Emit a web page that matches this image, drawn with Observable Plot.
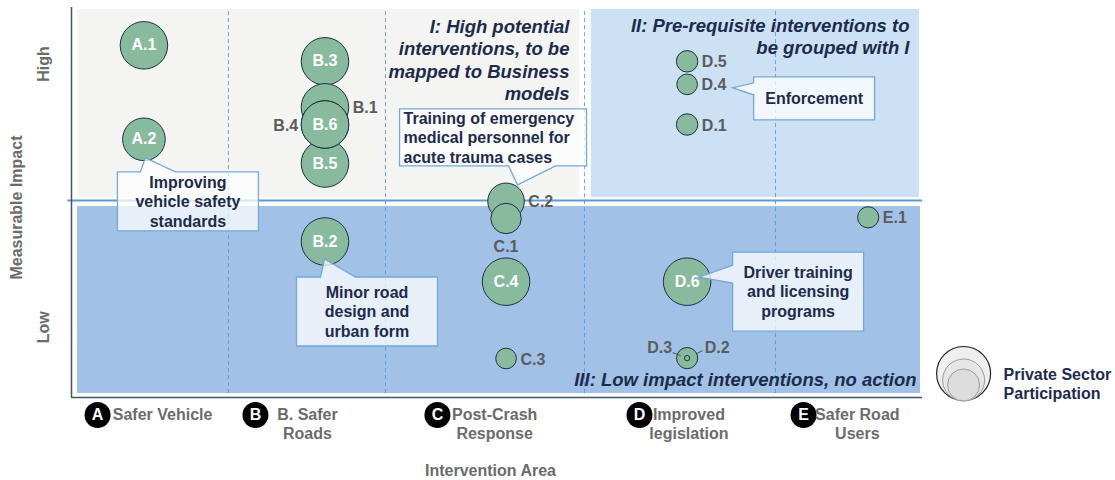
<!DOCTYPE html>
<html>
<head>
<meta charset="utf-8">
<script src="https://cdn.jsdelivr.net/npm/d3@7"></script>
<script src="https://cdn.jsdelivr.net/npm/@observablehq/plot@0.6"></script>
<style>
  html, body { margin: 0; padding: 0; background: #ffffff; }
  #chart svg { display: block; }
</style>
</head>
<body>
<div id="chart"></div>
<script>
// ------------------------- DATA -------------------------
const categories = ["A", "B", "C", "D", "E"];
const categoryNames = ["Safer Vehicle", "B. Safer\nRoads", "Post-Crash\nResponse", "Improved\nlegislation", "Safer Road\nUsers"];

// interventions (drawing order: later ones on top)
const ids           = ["A.1", "A.2", "B.3", "B.1", "B.5", "B.4", "B.6", "B.2", "C.2", "C.1", "C.4", "C.3", "D.5", "D.4", "D.1", "D.6", "D.2", "D.3", "E.1"];
const area          = ["A",   "A",   "B",   "B",   "B",   "B",   "B",   "B",   "C",   "C",   "C",   "C",   "D",   "D",   "D",   "D",   "D",   "D",   "E"];
const impact        = [9.03,  6.62,  8.62,  7.44,  6.0,   7.0,   7.0,   4.0,   5.03,  4.59,  2.97,  1.0,   8.62,  8.03,  7.0,   2.97,  1.01,  1.01,  4.62];
const participation = [9.8,   7.9,   9.8,   9.8,   9.8,   9.8,   9.8,   9.8,   5.8,   4.0,   9.8,   1.85,  2.0,   1.85,  2.0,   9.8,   1.95,  0.12,  1.95];
const labelSide     = ["in",  "in",  "in",  "right","in", "left","in",  "in",  "right","below","in", "right","right","right","right","in", "leadR","leadL","right"];

const yTickLabels = ["Low", "High"];
const yTickValues = [1.8, 8.55];
const xTitle = "Intervention Area";
const yTitle = "Measurable Impact";
const legendTitle = "Private Sector\nParticipation";

const quadrantTitles = [
  "I: High potential\ninterventions, to be\nmapped to Business\nmodels",
  "II: Pre-requisite interventions to\nbe grouped with I",
  "III: Low impact interventions, no action"
];
const calloutTargets = ["A.2", "C.2", "D.4", "B.2", "D.6"];
const calloutTexts = [
  "Improving\nvehicle safety\nstandards",
  "Training of emergency\nmedical personnel for\nacute trauma cases",
  "Enforcement",
  "Minor road\ndesign and\nurban form",
  "Driver training\nand licensing\nprograms"
];

// --------------------- LAYOUT / STYLE ---------------------
const W = 1115, H = 480;
const mL = 71, mR = 193, mT = 7, mB = 83;
const xDomain = [-0.4, 4.3];
const yDomain = [0, 10];
const threshold = 5.05;                       // High / Low split
const dividers = [0.467, 1.334, 2.433, 3.488]; // area boundaries
const rOptions = {type: "sqrt", domain: [0, 10], range: [0, 24]};

const catIconX = [-0.256, 0.616, 1.621, 2.737, 3.643];
const catLabelX = [0.103, 0.903, 1.937, 3.01, 3.94];
const catRowY = -0.45;
const legendX = 4.527, legendY = 0.615;

const C = {
  greyPanel: "#f4f4f2", lightBlue: "#cde1f4", blue: "#a2c1e6",
  line: "#5b9bd5", axis: "#44546a",
  bubble: "#88ba9d", bubbleStroke: "#1e3142",
  navy: "#1c2b4b", grey: "#6b6b6b", darkGrey: "#5c5c5c",
  boxStroke: "#72a9dc"
};

// callout geometry, offsets in px from the target bubble centre
const calloutLayout = [
  {box: [-26, 33, 115, 92],  side: "top",    base: [-3, 32],  tip: [2, 19],   align: "middle"},
  {box: [-106, -92, 81, -35], side: "bottom", base: [3, 50],   tip: [12, -16], align: "start"},
  {box: [67, -7, 188, 36],   side: "left",   base: [-1, 11],  tip: [46, 4],   align: "middle"},
  {box: [-28, 36, 113, 105], side: "top",    base: [-4, 31],  tip: [0, 18],   align: "middle"},
  {box: [46, -29, 177, 50],  side: "left",   base: [-16, 2],  tip: [12, -4],  align: "middle"}
];

// ------------------------- BUILD -------------------------
const bubbles = ids.map((id, i) => ({
  id, area: area[i], impact: impact[i], participation: participation[i], side: labelSide[i]
}));
const byId = Object.fromEntries(bubbles.map(d => [d.id, d]));
const xOf = d => categories.indexOf(d.area);

let rScale;
try { rScale = Plot.scale({r: rOptions}); } catch (e) { rScale = null; }
const rPx = v => rScale ? rScale.apply(v) : Math.sqrt(v / 10) * 24;

const fallbackX = d3.scaleLinear(xDomain, [mL, W - mR]);
const fallbackY = d3.scaleLinear(yDomain, [H - mB, mT]);

function annotations(index, scales) {
  const sx = (scales && scales.x) || fallbackX;
  const sy = (scales && scales.y) || fallbackY;
  const g = d3.create("svg:g");
  calloutTargets.forEach((t, i) => {
    const b = byId[t], L = calloutLayout[i];
    const cx = sx(categories.indexOf(b.area)), cy = sy(b.impact);
    const x1 = cx + L.box[0], y1 = cy + L.box[1], x2 = cx + L.box[2], y2 = cy + L.box[3];
    const tx = cx + L.tip[0], ty = cy + L.tip[1];
    let p;
    if (L.side === "top") {
      p = [[x1, y1], [cx + L.base[0], y1], [tx, ty], [cx + L.base[1], y1], [x2, y1], [x2, y2], [x1, y2]];
    } else if (L.side === "bottom") {
      p = [[x1, y1], [x2, y1], [x2, y2], [cx + L.base[1], y2], [tx, ty], [cx + L.base[0], y2], [x1, y2]];
    } else {
      p = [[x1, y1], [x2, y1], [x2, y2], [x1, y2], [x1, cy + L.base[1]], [tx, ty], [x1, cy + L.base[0]]];
    }
    g.append("path")
      .attr("d", "M" + p.map(q => q.join(",")).join("L") + "Z")
      .attr("fill", "#ffffff").attr("fill-opacity", 0.74)
      .attr("stroke", C.boxStroke).attr("stroke-width", 1.3);
    const lines = calloutTexts[i].split("\n");
    const lh = 19.5, mid = (y1 + y2) / 2;
    const text = g.append("text")
      .attr("font-size", 16).attr("font-weight", "bold").attr("fill", C.navy)
      .attr("text-anchor", L.align === "start" ? "start" : "middle");
    lines.forEach((s, k) => {
      text.append("tspan")
        .attr("x", L.align === "start" ? x1 + 4 : (x1 + x2) / 2)
        .attr("y", mid + (k - (lines.length - 1) / 2) * lh + 5.7)
        .text(s);
    });
  });
  // leader lines for D.3 / D.2
  const lead = [["D.3", [-14, -5], [-6, -2]], ["D.2", [10, -4], [16, -7]]];
  lead.forEach(([id, a, c]) => {
    const b = byId[id];
    const cx = sx(categories.indexOf(b.area)), cy = sy(b.impact);
    g.append("line")
      .attr("x1", cx + a[0]).attr("y1", cy + a[1]).attr("x2", cx + c[0]).attr("y2", cy + c[1])
      .attr("stroke", "#555").attr("stroke-width", 1);
  });
  return g.node();
}

const outsideLabelMarks = bubbles.filter(d => d.side !== "in").map(d => {
  const rr = rPx(d.participation);
  const o = {
    right: {dx: rr + 4, dy: 1, textAnchor: "start"},
    left: {dx: -(rr + 3), dy: 1, textAnchor: "end"},
    below: {dx: 0, dy: rr + 13, textAnchor: "middle"},
    leadR: {dx: rr + 7, dy: -10, textAnchor: "start"},
    leadL: {dx: -15, dy: -10, textAnchor: "end"}
  }[d.side];
  return Plot.text([d], {x: xOf, y: "impact", text: "id", ...o,
    fill: C.darkGrey, fontWeight: "bold", fontSize: 16});
});

const fontFamily = "'Liberation Sans', Arial, Helvetica, sans-serif";

const chart = Plot.plot({
  width: W, height: H,
  marginLeft: mL, marginRight: mR, marginTop: mT, marginBottom: mB,
  x: {domain: xDomain, axis: null},
  y: {domain: yDomain, axis: null},
  r: rOptions,
  style: {fontFamily, fontSize: "16px", background: "#ffffff"},
  marks: [
    // quadrant panels
    Plot.rect([0], {x1: xDomain[0], x2: dividers[2], y1: threshold, y2: yDomain[1], fill: C.greyPanel,
      insetLeft: 6, insetRight: 5, insetTop: 2, insetBottom: 3}),
    Plot.rect([0], {x1: dividers[2], x2: xDomain[1], y1: threshold, y2: yDomain[1], fill: C.lightBlue,
      insetLeft: 7, insetRight: 3, insetTop: 2, insetBottom: 3}),
    Plot.rect([0], {x1: xDomain[0], x2: xDomain[1], y1: yDomain[0], y2: threshold, fill: C.blue,
      insetLeft: 6, insetRight: 2, insetTop: 6, insetBottom: 4}),
    // area dividers
    Plot.ruleX(dividers, {y1: 0.1, y2: 9.92, stroke: C.line, strokeWidth: 1, strokeDasharray: "4,3", strokeOpacity: 0.9}),
    // threshold line
    Plot.ruleY([threshold], {x1: -0.42, x2: xDomain[1], stroke: C.line, strokeWidth: 2}),
    // axes lines
    Plot.ruleX([xDomain[0]], {y1: yDomain[0], y2: yDomain[1], stroke: C.axis, strokeWidth: 1.5}),
    Plot.ruleY([yDomain[0]], {x1: xDomain[0], x2: xDomain[1], stroke: C.axis, strokeWidth: 1.5}),
    // quadrant titles
    Plot.text([quadrantTitles[0]], {x: dividers[2], y: yDomain[1], text: d => d, textAnchor: "end", lineAnchor: "top",
      dx: -15, dy: 9, fontSize: 18.5, fontWeight: "bold", fontStyle: "italic", fill: C.navy, lineHeight: 1.22}),
    Plot.text([quadrantTitles[1]], {x: xDomain[1], y: yDomain[1], text: d => d, textAnchor: "end", lineAnchor: "top",
      dx: -13, dy: 9, fontSize: 18.5, fontWeight: "bold", fontStyle: "italic", fill: C.navy, lineHeight: 1.18}),
    Plot.text([quadrantTitles[2]], {x: xDomain[1], y: yDomain[0], text: d => d, textAnchor: "end", lineAnchor: "bottom",
      dx: -6, dy: -12, fontSize: 18.5, fontWeight: "bold", fontStyle: "italic", fill: C.navy}),
    // bubbles
    Plot.dot(bubbles, {x: xOf, y: "impact", r: "participation", fill: C.bubble, fillOpacity: 1,
      stroke: C.bubbleStroke, strokeWidth: 1}),
    Plot.text(bubbles.filter(d => d.side === "in"), {x: xOf, y: "impact", text: "id",
      fill: "#ffffff", fontWeight: "bold", fontSize: 16}),
    ...outsideLabelMarks,
    // callouts
    annotations,
    // y axis labels
    Plot.text(yTickLabels, {x: xDomain[0], y: (d, i) => yTickValues[i], text: d => d, rotate: -90, dx: -28,
      fill: C.grey, fontWeight: "bold", fontSize: 16}),
    Plot.text([yTitle], {x: xDomain[0], y: 4.87, text: d => d, rotate: -90, dx: -55,
      fill: C.grey, fontWeight: "bold", fontSize: 16}),
    // category row
    Plot.dot(categories, {x: (d, i) => catIconX[i], y: catRowY, r: 13, fill: "#000000"}),
    Plot.text(categories, {x: (d, i) => catIconX[i], y: catRowY, text: d => d, fill: "#ffffff",
      fontWeight: "bold", fontSize: 16}),
    Plot.text(categoryNames, {x: (d, i) => catLabelX[i], y: catRowY, text: d => d, lineAnchor: "top", dy: -8.5,
      lineHeight: 1.19, fill: C.grey, fontWeight: "bold", fontSize: 16}),
    Plot.text([xTitle], {x: 1.914, y: yDomain[0], text: d => d, dy: 73, fill: C.grey, fontWeight: "bold", fontSize: 16}),
    // legend
    Plot.dot([0], {x: legendX, y: legendY, r: 27, fill: "#efefef", stroke: "#222222", strokeWidth: 1.2}),
    Plot.dot([0], {x: legendX, y: legendY, dy: 6.5, r: 21, fill: "#e6e6e6", stroke: "#9a9a9a", strokeWidth: 1}),
    Plot.dot([0], {x: legendX, y: legendY, dy: 11.5, r: 16, fill: "#dddddd", stroke: "#9a9a9a", strokeWidth: 1}),
    Plot.text([legendTitle], {x: legendX, y: legendY, text: d => d, textAnchor: "start", dx: 40, dy: 10,
      lineHeight: 1.19, fill: C.navy, fontWeight: "bold", fontSize: 16})
  ]
});
document.getElementById("chart").appendChild(chart);
</script>
</body>
</html>
